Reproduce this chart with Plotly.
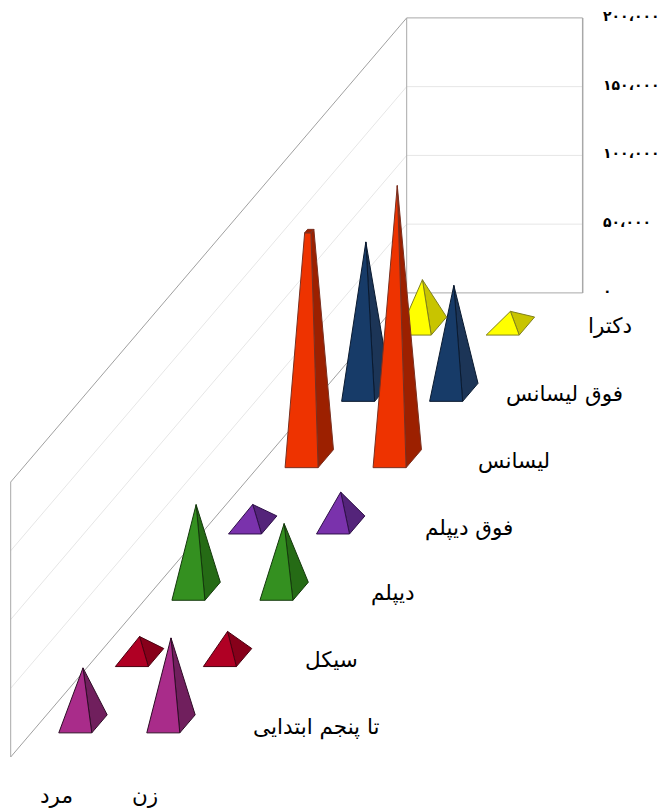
import plotly.graph_objects as go

# ---------- data ----------
categories = ["تا پنجم ابتدایی", "سیکل", "دیپلم", "فوق دیپلم", "لیسانس", "فوق لیسانس", "دکترا"]
series_names = ["مرد", "زن"]
men = [40700, 15300, 63000, 14900, 165500, 109400, 33700]
women = [62500, 19000, 49200, 23900, 198600, 77800, 10700]
tick_values = [0, 50000, 100000, 150000, 200000]
tick_labels = ["۰", "۵۰،۰۰۰", "۱۰۰،۰۰۰", "۱۵۰،۰۰۰", "۲۰۰،۰۰۰"]

# ---------- styles ----------
front_colors = ["#A92C8A", "#B00024", "#349020", "#7A32AC", "#EE3300", "#173B68", "#FFFF00"]
side_colors = ["#701F5D", "#87001A", "#256B15", "#54247A", "#9C2000", "#1C3557", "#C8C400"]
edge_colors = ["#2E0C26", "#4A0010", "#14380C", "#2E1048", "#7A3020", "#0A1A30", "#80801C"]
label_offsets = [(101, 3), (60, 1.5), (64, 2), (84, 3), (73, 1.5), (67, 1), (56, -1)]

# ---------- oblique projection ----------
X0, Y0 = 10.7, 757.0
UX = 88.0
WX, WY = 56.57, -66.3
VY = -275.0 / 200000
N = len(categories)
HALF_U, HALF_W = 0.1875, 0.136


def project(u, w, v):
    return (X0 + UX * u + WX * w, Y0 + WY * w + VY * v)


def add_line(fig, a, b, color, width=1):
    fig.add_trace(go.Scatter(x=[a[0], b[0]], y=[a[1], b[1]], mode="lines",
                             line=dict(color=color, width=width),
                             hoverinfo="skip", showlegend=False))


def add_face(fig, pts, fill, edge):
    fig.add_trace(go.Scatter(x=[p[0] for p in pts] + [pts[0][0]],
                             y=[p[1] for p in pts] + [pts[0][1]],
                             mode="lines", fill="toself", fillcolor=fill,
                             line=dict(color=edge, width=1),
                             hoverinfo="skip", showlegend=False))


def add_pyramid(fig, gender, row, value, top):
    cu, cw = gender + 0.5, row + 0.5
    fl = project(cu - HALF_U, cw - HALF_W, 0)
    fr = project(cu + HALF_U, cw - HALF_W, 0)
    br = project(cu + HALF_U, cw + HALF_W, 0)
    hu, hw = HALF_U * top, HALF_W * top
    tfl = project(cu - hu, cw - hw, value)
    tfr = project(cu + hu, cw - hw, value)
    tbr = project(cu + hu, cw + hw, value)
    tbl = project(cu - hu, cw + hw, value)
    add_face(fig, [fr, br, tbr, tfr], side_colors[row], edge_colors[row])
    add_face(fig, [fl, fr, tfr, tfl], front_colors[row], edge_colors[row])
    if top > 0:
        add_face(fig, [tfl, tfr, tbr, tbl], side_colors[row], edge_colors[row])


fig = go.Figure()

# walls and gridlines
WALL = "#A8A8A8"
GRID = "#E6E6E6"
for v in tick_values[1:-1]:
    add_line(fig, project(0, 0, v), project(0, N, v), GRID)
    add_line(fig, project(0, N, v), project(2, N, v), GRID)
vmax, vmin = tick_values[-1], tick_values[0]
for v in (vmin, vmax):
    add_line(fig, project(0, 0, v), project(0, N, v), "#A0A0A0")
    add_line(fig, project(0, N, v), project(2, N, v), WALL)
add_line(fig, project(0, 0, vmin), project(0, 0, vmax), WALL)
add_line(fig, project(0, N, vmin), project(0, N, vmax), WALL)
add_line(fig, project(2, N, vmin), project(2, N, vmax), WALL, 1.5)

# pyramids, back row first
for row in range(N - 1, -1, -1):
    add_pyramid(fig, 0, row, men[row], 0.19 if row == 4 else 0)
    add_pyramid(fig, 1, row, women[row], 0)

FONT = "DejaVu Sans"
annotations = []


def add_text(x, y, text, size, anchor="center"):
    annotations.append(dict(x=x, y=y, xref="x", yref="y", text=text, showarrow=False,
                            xanchor=anchor, yanchor="middle",
                            font=dict(family=FONT, size=size, color="#000000")))


# value axis labels
for v, lab in zip(tick_values, tick_labels):
    px, py = project(2, N, v)
    add_text(px + 18, py - 2, "<b>" + lab + "</b>", 14, "left")

# category labels
for row, lab in enumerate(categories):
    px, py = project(2, row + 0.5, 0)
    ox, oy = label_offsets[row]
    add_text(px + ox, py + oy, lab, 21.5)

# series labels
for g, lab in enumerate(series_names):
    px, py = project(g + 0.5, 0, 0)
    add_text(px + 2, py + 38, lab, 21.5)

fig.update_layout(
    width=661, height=808,
    margin=dict(l=0, r=0, t=0, b=0),
    paper_bgcolor="white", plot_bgcolor="white",
    xaxis=dict(range=[0, 661], visible=False, fixedrange=True),
    yaxis=dict(range=[808, 0], visible=False, fixedrange=True),
    annotations=annotations,
    showlegend=False,
)
fig.write_html("out.html", config=dict(displayModeBar=False),
               post_script="document.body.style.margin='0';document.body.style.overflow='hidden';")
